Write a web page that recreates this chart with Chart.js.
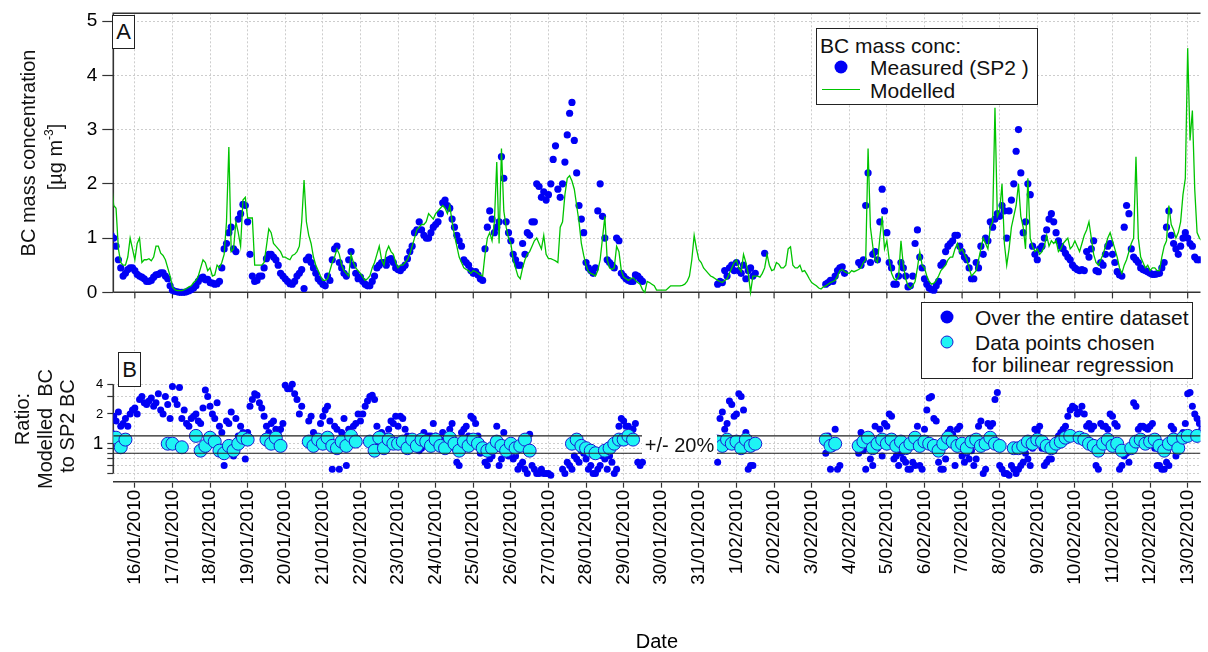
<!DOCTYPE html>
<html>
<head>
<meta charset="utf-8">
<title>BC mass concentration</title>
<script src="https://cdn.jsdelivr.net/npm/chart.js@4.4.1/dist/chart.umd.min.js"></script>
<style>
  body { margin: 0; background: #fff; font-family: 'Liberation Sans', Arial, sans-serif; color: #111; }
  #wrap { position: relative; width: 1208px; height: 652px; overflow: hidden; }
  #chart { position: absolute; left: 0; top: 0; }
  .rot { position: absolute; transform: translate(-50%, -50%) rotate(-90deg); white-space: nowrap; font-size: 20px; line-height: 1; }
  .rot sup { font-size: 12px; vertical-align: 9px; line-height: 0; }
  .txt { position: absolute; transform: translateY(-50%); white-space: nowrap; font-size: 21px; line-height: 1; }
  .box { position: absolute; border: 1.5px solid #222; background: #fff; box-sizing: border-box; }
  .tag { position: absolute; border: 1.5px solid #222; background: #fff; box-sizing: border-box;
         font-size: 22px; display: flex; align-items: center; justify-content: center; }
  .dot { position: absolute; width: 13px; height: 13px; border-radius: 50%; transform: translate(-50%, -50%); box-sizing: border-box; }
  .seg { position: absolute; height: 0; border-top: 1.4px solid #00c400; }
  .pm { position: absolute; background: #fff; font-size: 20px; line-height: 20px; text-align: center; white-space: nowrap; }
</style>
</head>
<body>
<div id="wrap">
  <canvas id="chart" width="1208" height="652"></canvas>

  <div class="rot" style="left:28px;top:153px">BC mass concentration</div>
  <div class="rot" style="left:55px;top:157px">[µg m<sup>-3</sup>]</div>
  <div class="rot" style="left:22px;top:419px">Ratio:</div>
  <div class="rot" style="left:45px;top:429px">Modelled&nbsp; BC</div>
  <div class="rot" style="left:67px;top:426px">to SP2 BC</div>

  <div class="tag" style="left:112px;top:15px;width:23px;height:34px">A</div>
  <div class="tag" style="left:118px;top:352px;width:23px;height:35px">B</div>

  <div class="box" style="left:816px;top:28px;width:222px;height:77px"></div>
  <div class="txt" style="left:820px;top:45px">BC mass conc:</div>
  <div class="dot" style="left:841px;top:67px;background:#0000f5"></div>
  <div class="txt" style="left:870px;top:67px">Measured (SP2 )</div>
  <div class="seg" style="left:822px;top:89px;width:38px"></div>
  <div class="txt" style="left:870px;top:90px">Modelled</div>

  <div class="box" style="left:921px;top:302px;width:272px;height:77px"></div>
  <div class="dot" style="left:947px;top:317px;background:#0000f5"></div>
  <div class="txt" style="left:975px;top:317px">Over the entire dataset</div>
  <div class="dot" style="left:947px;top:342px;background:#1ef4f4;border:1.2px solid #1a1ad0"></div>
  <div class="txt" style="left:975px;top:342px">Data points chosen</div>
  <div class="txt" style="left:972px;top:364px">for bilinear regression</div>

  <div class="pm" style="left:642px;top:434.5px;width:75px;height:20px">+/- 20%</div>
</div>

<script>
const FONT = "'Liberation Sans', Arial, sans-serif";

// x is in days from 16/01/2010 00:00.
// main readings are 3-hourly from 15/01/2010 09:00, "mid" readings sit 1.5 h later
const START_DAY = -0.625;
const STEP_DAY = 0.125;

const dayLabels = [
  '16/01/2010', '17/01/2010', '18/01/2010', '19/01/2010', '20/01/2010', '21/01/2010',
  '22/01/2010', '23/01/2010', '24/01/2010', '25/01/2010', '26/01/2010', '27/01/2010',
  '28/01/2010', '29/01/2010', '30/01/2010', '31/01/2010', '1/02/2010', '2/02/2010',
  '3/02/2010', '4/02/2010', '5/02/2010', '6/02/2010', '7/02/2010', '8/02/2010',
  '9/02/2010', '10/02/2010', '11/02/2010', '12/02/2010', '13/02/2010'
];

// measured BC (SP2), µg m-3
const measuredBC = [
  1.05, 0.85, 0.45, 0.35, 0.45,                    // 15/01 09-21h
  0.4, 0.3, 0.25, 0.2, 0.28, 0.33, 0.36, 0.25,     // 16/01
  0.04, 0.01, 0.0, 0.01, 0.05, 0.12, 0.26, 0.23,   // 17/01
  0.18, 0.15, 0.2, 0.8, 1.1, 0.8, 1.35, 1.62,      // 18/01
  1.3, 0.3, 0.22, 0.3, 0.62, 0.7, 0.6, 0.35,       // 19/01
  0.25, 0.16, 0.2, 0.35, 0.07, 0.65, 0.45, 0.25,   // 20/01
  0.15, 0.3, 0.6, 0.85, 0.45, 0.3, 0.75, 0.35,     // 21/01
  0.28, 0.15, 0.12, 0.3, 0.5, 0.55, 0.6, 0.55,     // 22/01
  0.42, 0.45, 0.62, 0.85, 1.15, 1.15, 1.0, 1.1,    // 23/01
  1.25, 1.45, 1.7, 1.55, 1.2, 0.95, 0.6, 0.5,      // 24/01
  0.35, 0.32, 0.22, 1.2, 1.35, 1.2, 2.5, 1.3,      // 25/01
  0.95, 0.6, 0.5, 0.7, 1.05, 1.3, 1.95, 1.85,      // 26/01
  1.8, 2.45, 1.9, 2.0, 2.9, 3.5, 2.2, 1.35,        // 27/01
  0.55, 0.4, 0.45, 2.0, 1.0, 0.55, 0.45, 0.95,     // 28/01
  0.3, 0.22, 0.2, 0.3, 0.2, null, null, null,      // 29/01
  null, null, null, null, null, null, null, null,  // 30/01
  null, null, null, null, 0.15, 0.18, 0.3, 0.5,    // 31/01
  0.55, 0.35, 0.25, 0.45, 0.35, null, 0.72, null,  // 1/02
  null, null, null, null, null, null, null, null,  // 2/02
  null, null, null, 0.15, 0.22, 0.3, 0.45, 0.35,   // 3/02
  null, null, 0.55, 0.6, 2.2, 0.7, 0.6, 1.9,       // 4/02
  1.1, 0.45, 0.15, 0.55, 0.3, 0.12, 0.9, 0.65,     // 5/02
  0.25, 0.08, 0.04, 0.2, 0.55, 0.85, 0.95, 1.05,   // 6/02
  0.75, 0.6, 0.25, 0.55, 0.85, 1.0, 1.3, 1.35,     // 7/02
  1.4, 1.5, 1.5, 2.0, 3.0, 1.1, 2.0, 0.85,         // 8/02
  0.6, 0.85, 1.15, 1.45, 1.1, 0.85, 0.72, 0.6,     // 9/02
  0.45, 0.4, 0.4, 0.65, 0.95, 0.38, 0.5, 0.85,     // 10/02
  0.7, 0.38, 0.3, 1.6, 0.8, 0.6, 0.45, 0.4,        // 11/02
  0.35, 0.33, 0.35, 0.55, 1.5, 0.9, 0.7, 1.0,      // 12/02
  1.0, 0.85, 0.6, 0.6                              // 13/02 00-09h
];
const measuredBCMid = [
  1.0, 0.6, 0.3, 0.42, 0.45,                       // 15/01 10:30-22:30
  0.33, 0.28, 0.2, 0.22, 0.32, 0.36, 0.3, 0.12,    // 16/01
  0.02, 0.0, 0.0, 0.03, 0.08, 0.2, 0.28, 0.24,     // 17/01
  0.17, 0.16, 0.45, 0.9, 1.2, 0.75, 1.45, 1.6,     // 18/01
  0.7, 0.2, 0.3, 0.45, 0.7, 0.65, 0.5, 0.3,        // 19/01
  0.2, 0.15, 0.3, 0.42, 0.6, 0.55, 0.35, 0.2,      // 20/01
  0.12, 0.22, 0.8, 0.55, 0.35, 0.6, 0.5, 0.25,     // 21/01
  0.2, 0.12, 0.2, 0.45, 0.55, 0.5, 0.62, 0.45,     // 22/01
  0.4, 0.5, 0.75, 1.1, 1.3, 1.05, 1.0, 1.2,        // 23/01
  1.3, 1.65, 1.6, 1.35, 1.05, 0.85, 0.55, 0.4,     // 24/01
  0.38, 0.25, 0.8, 1.5, 1.1, 1.3, 2.1, 1.1,        // 25/01
  0.7, 0.5, 0.9, 1.1, 1.3, 2.0, 1.75, 1.7,         // 26/01
  2.0, 2.7, 1.75, 2.4, 3.3, 2.8, 1.6, 1.1,         // 27/01
  0.45, 0.35, 1.5, 1.4, 0.6, 0.5, 1.0, 0.35,       // 28/01
  0.25, 0.2, 0.32, 0.25, null, null, null, null,   // 29/01
  null, null, null, null, null, null, null, null,  // 30/01
  null, null, null, null, 0.2, 0.4, 0.45, 0.4,     // 31/01
  0.4, 0.5, 0.4, 0.3, null, null, null, null,      // 1/02
  null, null, null, null, null, null, null, null,  // 2/02
  null, null, null, 0.18, 0.2, 0.4, 0.47, null,    // 3/02
  null, null, 0.5, 1.6, 0.55, 0.75, 1.3, 1.5,      // 4/02
  0.55, 0.15, 0.3, 0.45, 0.1, 0.3, 1.15, 0.45,     // 5/02
  0.15, 0.05, 0.12, 0.5, 0.75, 0.9, 1.05, 0.85,    // 6/02
  0.65, 0.45, 0.25, 0.45, 0.7, 0.95, 1.2, 1.45,    // 7/02
  1.6, 1.0, 1.7, 2.6, 2.2, 1.3, 1.8, 0.7,          // 8/02
  0.8, 1.0, 1.35, 1.3, 0.95, 0.8, 0.65, 0.5,       // 9/02
  0.42, 0.42, 0.75, 0.8, 0.4, 0.55, 0.7, 0.9,      // 10/02
  0.55, 0.32, 1.2, 1.45, 0.65, 0.55, 0.42, 0.38,   // 11/02
  0.33, 0.34, 0.45, 1.2, 1.05, 0.8, 0.85, 1.1,     // 12/02
  0.9, 0.65, 0.6                                   // 13/02 01:30-07:30
];

// modelled BC, µg m-3
const modelledBC = [
  2.05, 1.55, 0.55, 0.5, 1.0,                      // 15/01 09-21h
  0.6, 1.0, 0.6, 0.62, 0.65, 0.85, 0.68, 0.45,     // 16/01
  0.1, 0.03, 0.03, 0.07, 0.12, 0.22, 0.45, 0.55,   // 17/01
  0.45, 0.32, 0.45, 0.7, 2.68, 0.8, 1.1, 1.7,      // 18/01
  1.37, 1.37, 0.5, 0.5, 0.85, 1.1, 0.85, 0.75,     // 19/01
  0.65, 0.6, 0.7, 0.85, 2.07, 1.05, 0.65, 0.4,     // 20/01
  0.22, 0.25, 0.55, 0.8, 0.5, 0.35, 0.7, 0.45,     // 21/01
  0.35, 0.22, 0.3, 0.55, 0.85, 0.5, 0.85, 0.7,     // 22/01
  0.45, 0.5, 0.6, 0.85, 1.15, 1.25, 1.3, 1.4,      // 23/01
  1.45, 1.55, 1.55, 1.6, 1.05, 0.65, 0.45, 0.4,    // 24/01
  0.4, 0.35, 0.3, 1.0, 0.95, 2.4, 2.65, 1.2,       // 25/01
  0.9, 0.45, 0.25, 0.6, 0.75, 0.95, 0.9, 1.05,     // 26/01
  0.62, 0.6, 0.55, 1.3, 2.1, 2.05, 1.6, 0.9,       // 27/01
  0.5, 0.35, 0.3, 0.6, 1.4, 0.45, 0.45, 0.75,      // 28/01
  0.28, 0.22, 0.27, 0.18, 0.05, 0.2, 0.15, 0.04,   // 29/01
  0.04, 0.04, 0.12, 0.12, 0.12, 0.15, 0.3, 1.05,   // 30/01
  0.6, 0.45, 0.35, 0.28, 0.22, 0.18, 0.25, 0.45,   // 31/01
  0.6, 0.38, 0.55, 0.0, 0.3, 0.28, 0.45, 0.5,      // 1/02
  0.42, 0.52, 0.45, 0.8, 0.5, 0.45, 0.38, 0.33,    // 2/02
  0.18, 0.12, 0.06, 0.12, 0.18, 0.22, 0.4, 0.38,   // 3/02
  0.35, 0.38, 0.42, 0.55, 2.65, 0.85, 0.55, 1.4,   // 4/02
  0.95, 0.35, 0.22, 0.95, 0.25, 0.07, 0.2, 0.75,   // 5/02
  0.45, 0.2, 0.17, 0.3, 0.45, 0.6, 0.65, 0.9,      // 6/02
  0.8, 0.6, 0.3, 0.4, 0.8, 0.9, 1.2, 3.4,          // 7/02
  1.5, 0.9, 0.8, 1.4, 2.0, 1.2, 2.1, 0.85,         // 8/02
  0.8, 0.75, 1.05, 0.95, 0.95, 0.8, 0.95, 0.8,     // 9/02
  0.95, 0.75, 1.05, 1.3, 0.7, 0.5, 0.7, 1.0,       // 10/02
  0.95, 0.65, 0.35, 0.6, 0.9, 2.5, 0.65, 0.45,     // 11/02
  0.4, 0.45, 0.4, 0.85, 1.6, 1.15, 1.1, 1.8,       // 12/02
  4.5, 3.35, 1.1, 0.95                             // 13/02 00-09h
];
const modelledBCMid = [
  1.6, 0.8, 0.5, 0.65, 0.8,                        // 15/01 10:30-22:30
  0.9, 0.55, 0.6, 0.58, 0.85, 0.72, 0.6, 0.3,      // 16/01
  0.05, 0.03, 0.05, 0.1, 0.18, 0.3, 0.6, 0.4,      // 17/01
  0.3, 0.5, 0.55, 1.3, 0.75, 1.3, 0.85, 1.75,      // 18/01
  1.37, 0.5, 0.5, 0.55, 1.17, 0.9, 0.8, 0.65,      // 19/01
  0.62, 0.68, 0.75, 1.3, 1.3, 0.9, 0.5, 0.3,       // 20/01
  0.22, 0.4, 0.65, 0.7, 0.4, 0.3, 0.55, 0.4,       // 21/01
  0.28, 0.25, 0.45, 0.7, 0.6, 0.75, 0.75, 0.55,    // 22/01
  0.5, 0.55, 0.7, 1.0, 1.2, 1.25, 1.45, 1.35,      // 23/01
  1.5, 1.6, 1.45, 1.3, 0.85, 0.55, 0.42, 0.35,     // 24/01
  0.38, 0.32, 0.7, 1.1, 1.3, 0.9, 1.5, 1.0,        // 25/01
  0.6, 0.3, 0.45, 0.7, 0.85, 1.0, 0.8, 0.7,        // 26/01
  0.62, 0.58, 1.2, 1.8, 2.15, 1.9, 1.3, 0.68,      // 27/01
  0.38, 0.33, 0.4, 1.0, 0.6, 0.42, 0.85, 0.4,      // 28/01
  0.25, 0.25, 0.22, 0.15, 0.0, 0.18, 0.12, 0.04,   // 29/01
  0.04, 0.08, 0.12, 0.12, 0.13, 0.2, 0.6, 0.8,     // 30/01
  0.55, 0.4, 0.3, 0.25, 0.2, 0.22, 0.35, 0.55,     // 31/01
  0.45, 0.7, 0.35, 0.3, 0.3, 0.35, 0.7, 0.4,       // 1/02
  0.55, 0.45, 0.5, 0.84, 0.45, 0.5, 0.4, 0.25,     // 2/02
  0.15, 0.08, 0.1, 0.15, 0.2, 0.3, 0.42, 0.36,     // 3/02
  0.4, 0.4, 0.45, 0.6, 1.2, 0.6, 1.0, 0.8,         // 4/02
  0.6, 0.25, 0.3, 0.5, 0.12, 0.12, 0.45, 0.5,      // 5/02
  0.3, 0.15, 0.22, 0.4, 0.5, 0.65, 0.8, 0.75,      // 6/02
  0.7, 0.45, 0.35, 0.6, 1.0, 0.8, 1.3, 1.4,        // 7/02
  2.0, 0.5, 1.2, 1.6, 1.4, 0.8, 1.0, 0.75,         // 8/02
  0.7, 0.85, 0.85, 0.9, 0.75, 0.9, 1.0, 0.85,      // 9/02
  0.85, 0.9, 1.15, 1.0, 0.55, 0.6, 0.85, 1.1,      // 10/02
  0.8, 0.45, 0.5, 0.75, 1.0, 1.0, 0.55, 0.5,       // 11/02
  0.45, 0.4, 0.65, 0.95, 1.25, 1.0, 1.3, 2.1,      // 12/02
  2.8, 1.9, 1.0                                    // 13/02 01:30-07:30
];

// ratio modelled / SP2, over the entire dataset
const ratioAll = [
  1.3, 1.7, 1.5, 1.8, 2.0,                         // 15/01 09-21h
  2.3, 2.8, 2.6, 2.7, 2.4, 3.2, 2.0, 2.5,          // 16/01
  3.8, 2.5, 1.8, 1.6, 1.8, 2.0, 1.6, 3.5,          // 17/01
  2.4, 1.8, 1.5, 0.6, 1.6, 0.75, 1.2, 1.3,         // 18/01
  1.3, 2.8, 3.1, 2.3, 1.5, 1.6, 1.4, 1.4,          // 19/01
  3.9, 3.6, 3.2, 2.0, null, 1.7, 1.3, 1.0,         // 20/01
  1.9, 2.4, 0.55, 1.4, 1.3, 0.6, 1.25, 1.6,        // 21/01
  1.7, 2.4, 3.0, 2.8, 1.0, 1.0, 1.4, 1.6,          // 22/01
  1.5, 1.8, 1.2, 0.95, 1.0, 0.9, 1.1, 1.2,         // 23/01
  1.2, 1.1, 1.0, 1.4, 0.9, 0.6, 1.4, 1.2,          // 24/01
  1.8, 1.2, 0.9, 0.6, 0.75, 1.5, 0.7, 0.9,         // 25/01
  0.9, 0.75, 0.6, 0.55, 1.25, 0.55, 0.5, 0.5,      // 26/01
  0.5, null, null, 0.55, 0.65, 0.55, 0.7, 0.85,    // 27/01
  0.7, 0.6, 0.5, 0.6, 0.7, 0.75, 0.5, 1.5,         // 28/01
  1.7, 1.5, 1.4, 0.65, 0.65, null, null, null,     // 29/01
  null, null, null, null, null, null, null, null,  // 30/01
  null, null, null, null, 0.65, 2.1, 1.6, 2.5,     // 31/01
  2.0, 3.0, 1.3, 0.6, 1.0, null, null, null,       // 1/02
  null, null, null, null, null, null, null, null,  // 2/02
  null, null, null, 0.8, 0.55, 1.4, 0.6, null,     // 3/02
  null, null, 0.8, 0.85, 1.2, 0.6, 0.9, 0.75,      // 4/02
  1.5, 1.9, 0.75, 0.8, 0.65, 0.55, 0.6, 0.6,       // 5/02
  1.4, 2.9, 1.8, 0.65, 0.55, 1.3, 1.25, 1.4,       // 6/02
  0.75, 0.8, 0.85, 0.7, 1.7, 0.55, 1.5, 2.8,       // 7/02
  0.6, 0.5, 0.48, 0.55, 0.55, 0.65, 0.7, 0.9,      // 8/02
  1.35, 0.9, 0.65, 0.7, 0.95, 1.3, 1.5, 2.2,       // 9/02
  2.3, 2.1, 2.0, 1.6, 1.5, 0.55, 1.5, 1.4,         // 10/02
  1.9, 1.5, 0.6, 0.8, 0.85, 2.4, 1.5, 1.45,        // 11/02
  1.5, 0.9, 0.6, 0.55, 0.6, 1.4, 0.9, 1.3,         // 12/02
  3.2, 2.4, 1.8, 1.4                               // 13/02 00-09h
];
const ratioAllMid = [
  1.9, 2.1, 1.6, 1.5, 2.2,                         // 15/01 10:30-22:30
  2.0, 3.0, 2.5, 2.9, 2.6, 2.2, 3.0, 1.8,          // 16/01
  2.8, 3.7, 2.2, 1.5, 1.9, 1.7, 2.3, 3.0,          // 17/01
  2.0, 2.6, 1.3, 1.7, 2.1, 1.8, 1.5, 0.7,          // 18/01
  2.4, 3.2, 2.6, 1.9, 1.3, 1.7, 1.3, 1.6,          // 19/01
  3.6, 4.0, 2.8, 2.4, null, 1.9, 1.2, 1.6,         // 20/01
  2.2, 1.7, 1.5, 0.55, 1.8, 1.4, 1.5, 2.0,         // 21/01
  2.0, 2.7, 3.1, 1.5, 1.3, 1.2, 1.7, 1.9,          // 22/01
  1.9, 1.4, 1.0, 1.1, 0.85, 1.3, 1.2, 1.6,         // 23/01
  1.0, 1.3, 1.2, 1.6, 0.65, 1.3, 1.5, 1.9,         // 24/01
  1.6, 0.8, 0.65, 0.7, 1.1, 0.6, 1.3, 0.75,        // 25/01
  0.7, 0.55, 0.65, 0.5, 0.6, 0.5, 0.55, 0.5,       // 26/01
  0.48, null, null, 0.5, 0.6, 0.75, 0.65, 0.8,     // 27/01
  0.55, 0.5, 0.55, 0.75, 0.55, 0.65, 0.55, 1.8,    // 28/01
  1.5, 1.3, 1.6, 0.6, null, null, null, null,      // 29/01
  null, null, null, null, null, null, null, null,  // 30/01
  null, null, null, null, 1.8, 1.4, 2.7, 1.9,      // 31/01
  3.2, 2.2, 0.55, 0.6, null, null, null, null,     // 1/02
  null, null, null, null, null, null, null, null,  // 2/02
  null, null, null, 1.2, 0.9, 0.55, null, null,    // 3/02
  null, null, 1.3, 0.55, 0.7, 1.5, 1.4, 1.6,       // 4/02
  2.0, 0.7, 0.6, 0.7, 0.55, 0.65, 1.5, 0.55,       // 5/02
  2.2, 3.0, 1.7, 0.55, 0.7, 1.4, 0.6, 1.5,         // 6/02
  0.65, 0.7, 0.6, 1.5, 0.5, 1.6, 1.6, 3.3,         // 7/02
  0.55, 0.5, 0.6, 0.5, 0.6, 0.8, 0.6, 1.4,         // 8/02
  1.5, 0.6, 0.7, 0.85, 1.2, 1.4, 1.9, 2.4,         // 9/02
  2.0, 2.4, 1.5, 1.4, 0.6, 1.6, 1.5, 2.0,          // 10/02
  1.6, 0.55, 0.75, 0.65, 2.6, 1.4, 1.5, 1.4,       // 11/02
  1.6, 0.6, 0.55, 0.65, 1.5, 0.75, 1.2, 1.6,       // 12/02
  3.3, 2.0, 1.6                                    // 13/02 01:30-07:30
];

// ratio for the points chosen for the bilinear regression
const ratioChosen = [
  null, 1.15, 0.92, 1.1, null,                     // 15/01 09-21h
  null, null, null, null, null, null, null, 1.0,   // 16/01
  1.0, null, 0.92, null, null, 1.2, 0.85, 0.95,    // 17/01
  1.15, 1.05, 0.85, 0.8, 0.95, 0.85, 1.0, 1.15,    // 18/01
  1.1, null, null, null, 1.1, 1.0, 1.15, 0.95,     // 19/01
  null, null, null, null, null, 1.05, 0.95, 1.1,   // 20/01
  1.0, 1.15, 0.95, 0.9, 1.05, 0.95, 1.2, 1.05,     // 21/01
  null, null, 1.05, 0.85, 1.15, 0.9, 1.1, 1.0,     // 22/01
  1.0, 1.05, 0.9, 1.1, 0.95, 1.1, 1.05, 0.95,      // 23/01
  1.1, 0.95, 0.9, 1.15, 1.0, 0.85, 1.05, 0.95,     // 24/01
  1.1, 1.0, 0.9, 0.85, 0.9, 1.05, 0.95, 0.85,      // 25/01
  1.0, 0.9, 0.95, 1.1, 0.85, null, null, null,     // 26/01
  null, null, null, null, null, 1.0, 1.1, 0.95,    // 27/01
  0.9, 0.85, 0.8, null, 0.85, 0.9, 1.0, 1.1,       // 28/01
  1.1, 1.2, 1.1, null, null, null, null, null,     // 29/01
  null, null, null, null, null, null, null, null,  // 30/01
  null, null, null, null, 1.05, 0.95, 1.1, 1.0,    // 31/01
  1.05, 0.9, 1.1, 0.95, 1.0, null, null, null,     // 1/02
  null, null, null, null, null, null, null, null,  // 2/02
  null, null, null, 1.1, 0.95, 1.0, null, null,    // 3/02
  null, null, 0.95, 1.05, 1.15, 0.9, 1.0, 1.1,     // 4/02
  1.0, 1.1, 0.95, 1.05, 0.9, 1.0, 1.15, 0.95,      // 5/02
  1.05, 1.0, 0.95, 0.85, 1.0, 1.15, 1.05, 0.95,    // 6/02
  1.0, 0.9, 1.05, 1.1, 0.95, 1.0, 1.15, 1.0,       // 7/02
  0.95, null, null, 0.9, 0.9, 0.95, 1.05, 1.0,     // 8/02
  1.1, 1.05, 0.95, 0.9, 1.0, 1.05, 1.15, 1.2,      // 9/02
  null, 1.15, 1.1, 1.0, 0.95, 0.85, 1.0, 1.1,      // 10/02
  0.95, 1.0, 0.85, null, 0.9, 1.05, 1.1, 1.0,      // 11/02
  1.05, 1.1, 0.95, 0.85, 1.0, 1.1, 0.9, 1.15,      // 12/02
  1.2, null, 1.2, null                             // 13/02 00-09h
];

const bandLimits = [0.8, 1.2];        // +/- 20 %
const ratioTickLabels = { 1: '1', 2: '2', 4: '4' };
const ratioMinorTicks = [0.5, 0.6, 0.7, 0.8, 0.9, 3];

// axis ranges (both panels share one plot area)
const X_MIN = -0.573, X_MAX = 28.341;
const Y_MIN = -3.49, Y_MAX = 5.142;     // panel A, linear
const R_MIN = 0.412, R_MAX = 22950;     // panel B, log

function toPoints(values, offsetSteps = 0) {
  return values.map((v, i) => ({ x: START_DAY + (i + offsetSteps) * STEP_DAY, y: v }));
}
function series(main, mid) {
  return toPoints(main).concat(toPoints(mid, 0.5)).sort((a, b) => a.x - b.x);
}

const GRID = '#cdcdcd';
const AXIS = '#333';

const panelFrames = {
  id: 'panelFrames',
  afterLayout(chart) {
    // the ratio axis has no width of its own; let its labels use the space left of the plot
    chart.scales.y2.left = 0;
  },
  beforeDatasetsDraw(chart) {
    const { ctx, chartArea, scales: { x, y, y2 } } = chart;
    const y0 = y.getPixelForValue(0);
    ctx.save();
    ctx.strokeStyle = AXIS;
    ctx.lineWidth = 1.6;
    ctx.beginPath();
    ctx.moveTo(chartArea.left, y0);
    ctx.lineTo(chartArea.left, chartArea.top);
    ctx.lineTo(chartArea.right, chartArea.top);
    ctx.moveTo(chartArea.left, y0);
    ctx.lineTo(chartArea.right, y0);
    ctx.moveTo(chartArea.left, y2.getPixelForValue(4));
    ctx.lineTo(chartArea.left, y2.getPixelForValue(0.5));
    ctx.stroke();
    ctx.lineWidth = 1.2;
    ctx.beginPath();
    dayLabels.forEach((_, d) => {
      const px = x.getPixelForValue(d);
      ctx.moveTo(px, y0);
      ctx.lineTo(px, y0 + 6);
    });
    ctx.stroke();
    ctx.restore();
  }
};

new Chart(document.getElementById('chart'), {
  data: {
    datasets: [
      {
        type: 'line', label: '+20%', yAxisID: 'y2', order: 0,
        data: [{ x: X_MIN, y: bandLimits[1] }, { x: X_MAX, y: bandLimits[1] }],
        borderColor: '#222', borderWidth: 1.2, pointRadius: 0
      },
      {
        type: 'line', label: '-20%', yAxisID: 'y2', order: 0,
        data: [{ x: X_MIN, y: bandLimits[0] }, { x: X_MAX, y: bandLimits[0] }],
        borderColor: '#222', borderWidth: 1.2, pointRadius: 0
      },
      {
        type: 'line', label: 'Modelled', yAxisID: 'y', order: 1,
        data: series(modelledBC, modelledBCMid),
        borderColor: '#00c400', borderWidth: 1.3, pointRadius: 0, tension: 0
      },
      {
        type: 'scatter', label: 'Measured (SP2 )', yAxisID: 'y', order: 2,
        data: series(measuredBC, measuredBCMid),
        pointRadius: 3.6, pointBackgroundColor: '#0000f5', pointBorderWidth: 0
      },
      {
        type: 'scatter', label: 'Data points chosen for bilinear regression', yAxisID: 'y2', order: 1,
        data: toPoints(ratioChosen),
        pointRadius: 6.5, pointBackgroundColor: '#1ef4f4', pointBorderColor: '#1a1ad0', pointBorderWidth: 1
      },
      {
        type: 'scatter', label: 'Over the entire dataset', yAxisID: 'y2', order: 2,
        data: series(ratioAll, ratioAllMid),
        pointRadius: 3.5, pointBackgroundColor: '#0000f5', pointBorderWidth: 0
      }
    ]
  },
  options: {
    responsive: false,
    animation: false,
    events: [],
    layout: { padding: { top: 13.3, right: 0, bottom: 0, left: 0 } },
    plugins: { legend: { display: false }, tooltip: { enabled: false } },
    scales: {
      x: {
        type: 'linear', position: 'bottom', min: X_MIN, max: X_MAX,
        afterFit: (s) => { s.height = 170.3; s.paddingLeft = 0; s.paddingRight = 0; },
        ticks: {
          stepSize: 1, includeBounds: false, autoSkip: false, maxTicksLimit: 60,
          minRotation: 90, maxRotation: 90, padding: 2, color: '#000',
          font: { family: FONT, size: 19 },
          callback: (v) => (Number.isInteger(v) && v >= 0 && v < dayLabels.length) ? dayLabels[v] : null
        },
        grid: { color: GRID, lineWidth: 1, tickLength: 6, tickColor: AXIS, tickWidth: 1.2, tickBorderDash: [] },
        border: { display: true, color: AXIS, width: 1.6, dash: [2, 2] },
        title: { display: true, text: 'Date', color: '#000', padding: { top: 0, bottom: 0 },
                 font: { family: FONT, size: 20, lineHeight: 1 } }
      },
      y: {
        type: 'linear', position: 'left', weight: 1, min: Y_MIN, max: Y_MAX,
        afterFit: (s) => { s.width = 113.3; s.paddingTop = 0; s.paddingBottom = 0; },
        ticks: {
          stepSize: 1, includeBounds: false, maxTicksLimit: 20, padding: 5, color: '#000',
          font: { family: FONT, size: 19 },
          callback: (v) => (Number.isInteger(v) && v >= 0 && v <= 5) ? String(v) : null
        },
        grid: { color: GRID, lineWidth: 1, tickLength: 11, tickColor: AXIS, tickWidth: 1.2, tickBorderDash: [] },
        border: { display: false, dash: [2, 2] }
      },
      y2: {
        type: 'logarithmic', position: 'left', weight: 0, min: R_MIN, max: R_MAX,
        afterFit: (s) => { s.width = 0; s.paddingTop = 0; s.paddingBottom = 0; },
        ticks: {
          autoSkip: false, padding: 4, color: '#000',
          font: (ctx) => ({ family: FONT, size: ctx.tick && Math.abs(ctx.tick.value - 1) < 1e-6 ? 19 : 13 }),
          callback: (v) => {
            const r = Math.round(v * 100) / 100;
            if (ratioTickLabels[r] !== undefined) return ratioTickLabels[r];
            if (ratioMinorTicks.includes(r)) return '';
            return null;
          }
        },
        grid: { color: GRID, lineWidth: 1, tickLength: 6, tickColor: AXIS, tickWidth: 1.2, tickBorderDash: [] },
        border: { display: false, dash: [2, 2] }
      }
    }
  },
  plugins: [panelFrames]
});
</script>
</body>
</html>
